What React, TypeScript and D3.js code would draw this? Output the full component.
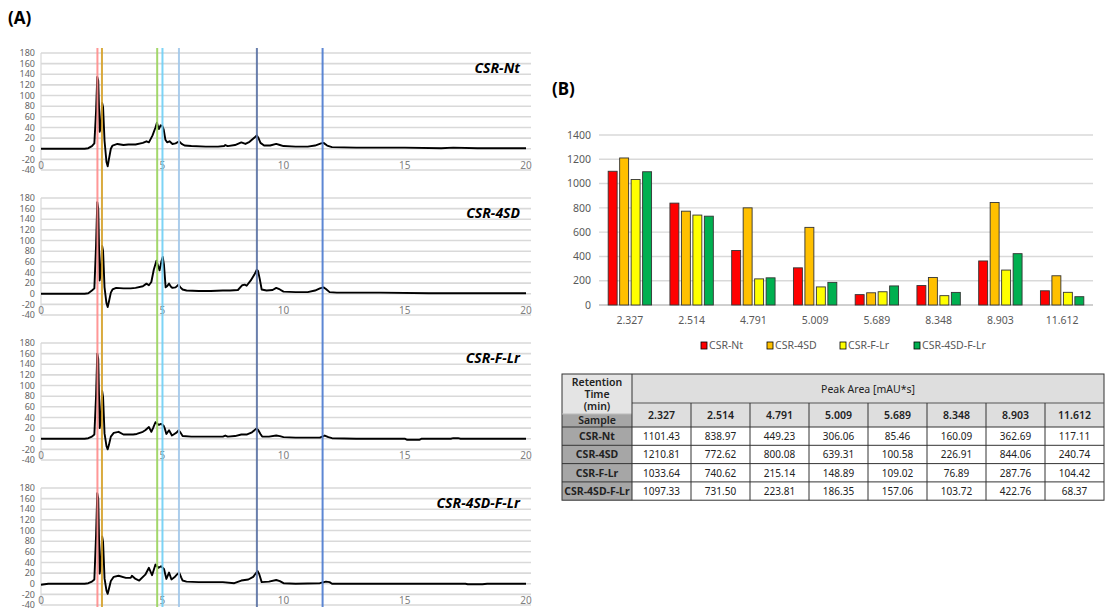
import * as d3 from 'd3'

// sample names, retention times and marker lines
const sampleNames = ['CSR-Nt', 'CSR-4SD', 'CSR-F-Lr', 'CSR-4SD-F-Lr']
const retentionTimes = ['2.327', '2.514', '4.791', '5.009', '5.689', '8.348', '8.903', '11.612']
const markerTimes = [2.327, 2.514, 4.791, 5.009, 5.689, 8.903, 11.612]
const markerColors = ['#ff8c8c', '#d6a22a', '#9ad45c', '#6fd0f6', '#a3c8ea', '#5a72a4', '#4c7bd0']
const barColors = ['#ff0000', '#ffc000', '#ffff00', '#00b050']

// peak areas [mAU*s]
const areaNt = [1101.43, 838.97, 449.23, 306.06, 85.46, 160.09, 362.69, 117.11]
const area4SD = [1210.81, 772.62, 800.08, 639.31, 100.58, 226.91, 844.06, 240.74]
const areaFLr = [1033.64, 740.62, 215.14, 148.89, 109.02, 76.89, 287.76, 104.42]
const area4SDFLr = [1097.33, 731.5, 223.81, 186.35, 157.06, 103.72, 422.76, 68.37]

// chromatograms: [time (min), mAU]
const traceNt = [[0,0],[1.8,0],[1.95,1],[2.1,5],[2.2,10],[2.27,70],[2.32,135],[2.36,128],[2.42,32],[2.47,40],[2.52,86],[2.56,78],[2.62,15],[2.7,-25],[2.75,-33],[2.8,-20],[2.88,0],[2.95,6],[3.15,9],[3.4,7],[3.6,8],[3.9,8],[4.2,11],[4.35,14],[4.45,12],[4.6,25],[4.72,40],[4.78,49],[4.86,37],[4.93,44],[5.0,43],[5.06,36],[5.13,17],[5.2,12],[5.3,14],[5.42,9],[5.55,10],[5.7,14],[5.8,9],[5.92,6],[6.2,5],[6.8,4],[7.3,4],[7.55,5],[7.6,7],[7.7,5],[8.0,7],[8.26,12],[8.43,9],[8.6,13],[8.83,22],[8.9,25],[8.97,20],[9.05,11],[9.2,6],[9.45,6],[9.7,9],[9.85,7],[10.0,5],[10.5,4],[11.0,4],[11.3,6],[11.55,10],[11.65,11],[11.8,6],[12.0,3],[13,2],[14,2],[15,2],[16.5,1],[17,2],[18,1],[19,1],[20,1]]
const trace4SD = [[0,0],[1.8,0],[1.95,1],[2.1,6],[2.2,10],[2.27,90],[2.32,172],[2.36,160],[2.42,25],[2.47,40],[2.52,90],[2.56,80],[2.62,12],[2.7,-18],[2.75,-25],[2.8,-15],[2.88,2],[2.95,8],[3.1,11],[3.4,10],[3.7,10],[3.9,11],[4.2,14],[4.35,19],[4.45,16],[4.55,22],[4.65,45],[4.76,62],[4.83,52],[4.89,44],[4.96,60],[5.02,69],[5.07,55],[5.14,12],[5.2,14],[5.28,19],[5.36,13],[5.42,11],[5.55,12],[5.67,17],[5.75,12],[5.84,8],[6.0,6],[6.5,5],[7.0,5],[7.5,6],[7.8,6],[8.12,7],[8.3,16],[8.4,17],[8.48,15],[8.65,25],[8.8,36],[8.9,45],[8.95,43],[9.02,28],[9.1,8],[9.3,6],[9.55,7],[9.7,11],[9.85,8],[10.0,4],[10.5,3],[11.0,3],[11.3,6],[11.5,10],[11.65,12],[11.75,9],[11.9,3],[12.2,2],[14,2],[16,1],[18,1],[20,1]]
const traceFLr = [[0,0],[1.8,0],[1.95,1],[2.1,4],[2.2,8],[2.27,80],[2.32,160],[2.36,150],[2.42,20],[2.47,35],[2.52,90],[2.56,78],[2.62,10],[2.7,-14],[2.75,-20],[2.8,-12],[2.88,4],[3.0,11],[3.2,13],[3.4,8],[3.8,8],[3.95,9],[4.2,13],[4.3,16],[4.45,22],[4.55,13],[4.62,20],[4.72,31],[4.8,28],[4.86,26],[4.95,28],[5.05,25],[5.1,20],[5.17,9],[5.28,16],[5.4,6],[5.5,9],[5.6,12],[5.68,16],[5.76,11],[5.84,5],[6.2,4],[7.0,4],[7.5,4],[7.6,6],[7.7,4],[8.0,5],[8.26,8],[8.5,8],[8.7,12],[8.88,19],[8.95,17],[9.05,9],[9.12,4],[9.4,4],[9.7,6],[9.85,5],[10.0,3],[10.5,2],[11.5,2],[11.7,6],[11.85,3],[12.0,1],[13,0],[15.0,0],[15.1,-2],[15.6,-2],[15.7,0],[16.9,0],[17.0,1],[17.2,1],[17.3,0],[20,0]]
const trace4SDFLr = [[0,-2],[0.3,0],[1.8,0],[1.95,1],[2.1,4],[2.2,8],[2.27,90],[2.32,170],[2.36,160],[2.42,19],[2.47,35],[2.52,89],[2.56,78],[2.62,10],[2.7,-13],[2.75,-19],[2.8,-10],[2.88,5],[3.0,13],[3.2,15],[3.5,11],[3.7,11],[3.75,15],[3.9,9],[4.05,6],[4.3,17],[4.45,30],[4.58,16],[4.72,36],[4.85,30],[4.95,33],[5.07,28],[5.17,9],[5.28,21],[5.38,8],[5.5,12],[5.62,18],[5.7,21],[5.78,12],[5.84,6],[6.0,4],[6.5,3],[7.5,3],[7.97,1],[8.26,6],[8.55,8],[8.75,13],[8.93,24],[9.0,18],[9.1,3],[9.4,4],[9.7,7],[9.85,5],[10.0,1],[10.5,0],[11.5,1],[11.75,4],[11.9,3],[12.0,0],[14,0],[17.5,0],[17.6,-1],[18.2,-1],[18.4,0],[20,0]]

const traces = [traceNt, trace4SD, traceFLr, trace4SDFLr]
const areas = [areaNt, area4SD, areaFLr, area4SDFLr]

const yTicksA = d3.range(-40, 181, 20)
const xTicksA = [0, 5, 10, 15, 20]
const yTicksB = d3.range(0, 1401, 200)

const font = "'Noto Sans', 'Open Sans', sans-serif"

const App = () => {
  // panel A
  const xA = d3.scaleLinear().domain([0, 20]).range([41, 526])
  const plotRight = 531

  // panel B
  const xB = d3.scaleBand().domain(retentionTimes).range([599, 1093])
  const xInner = d3.scaleBand().domain(sampleNames).range([0, xB.bandwidth()]).paddingInner(0.22).paddingOuter(0.8)
  const yB = d3.scaleLinear().domain([0, 1400]).range([305, 135])

  // table
  const colEdges = [562, 632].concat(d3.range(1, 9).map((i) => 632 + i * 59))
  const rowEdges = [427, 445.3, 463.6, 481.9, 500.2]

  const legendX = [701, 767, 840, 914]

  return (
    <svg width={1107} height={611} style={{ position: 'absolute', left: 0, top: 0, background: '#fff' }} fontFamily={font}>
      <text x={8} y={24} fontSize={17} fontWeight={700}>(A)</text>

      {traces.map((trace, i) => {
        const top = 53 + 145 * i
        const yA = d3.scaleLinear().domain([-40, 180]).range([top + 117, top])
        const line = d3.line<number[]>().x((d) => xA(d[0])).y((d) => yA(d[1]))
        return (
          <g key={sampleNames[i]}>
            {yTicksA.map((t) => (
              <g key={t}>
                <line x1={41} x2={plotRight} y1={yA(t)} y2={yA(t)} stroke='#d9d9d9' strokeWidth={1.6} />
                <text x={35} y={yA(t)} dy='0.35em' textAnchor='end' fontSize={9} fill='#666'>{t}</text>
              </g>
            ))}
            <line x1={41} x2={41} y1={top} y2={top + 117} stroke='#d9d9d9' strokeWidth={1.2} />
            {xTicksA.map((t) => (
              <text key={t} x={xA(t)} y={yA(-30) + 4} textAnchor='middle' fontSize={10} fill='#808080'>{t}</text>
            ))}
            <path d={line(trace) || ''} fill='none' stroke='#000' strokeWidth={1.9} strokeLinejoin='round' />
            <text x={520} y={top + 20} textAnchor='end' fontSize={14} fontWeight={700} fontStyle='italic'>{sampleNames[i]}</text>
          </g>
        )
      })}

      {markerTimes.map((t, i) => (
        <line key={t} x1={xA(t)} x2={xA(t)} y1={48} y2={607} stroke={markerColors[i]} strokeWidth={2} opacity={0.9} />
      ))}

      <text x={552} y={95} fontSize={17} fontWeight={700}>(B)</text>

      {yTicksB.map((t) => (
        <g key={t}>
          <line x1={599} x2={1093} y1={yB(t)} y2={yB(t)} stroke={t === 0 ? '#bfbfbf' : '#d9d9d9'} strokeWidth={1.4} />
          <text x={591} y={yB(t)} dy='0.35em' textAnchor='end' fontSize={10.5} fill='#595959'>{t}</text>
        </g>
      ))}
      {retentionTimes.map((rt, c) => (
        <g key={rt}>
          {areas.map((vals, s) => (
            <rect
              key={s}
              x={(xB(rt) || 0) + (xInner(sampleNames[s]) || 0)}
              y={yB(vals[c])}
              width={xInner.bandwidth()}
              height={yB(0) - yB(vals[c])}
              fill={barColors[s]}
              stroke='#333'
              strokeWidth={0.9}
            />
          ))}
          <text x={(xB(rt) || 0) + xB.bandwidth() / 2} y={324} textAnchor='middle' fontSize={10.5} fill='#595959'>{rt}</text>
        </g>
      ))}
      {sampleNames.map((n, s) => (
        <g key={n}>
          <rect x={legendX[s]} y={342} width={6} height={7} fill={barColors[s]} stroke='#000' strokeWidth={0.8} />
          <text x={legendX[s] + 8} y={349} fontSize={10.5} fill='#595959'>{n}</text>
        </g>
      ))}

      {/* table */}
      <g fontSize={10.5} fill='#222'>
        <rect x={562} y={374} width={70} height={40} fill='#e4e4e4' />
        <rect x={562} y={414} width={70} height={13} fill='#a6a6a6' />
        <rect x={632} y={374} width={472} height={53} fill='#dedede' />
        {rowEdges.slice(0, 4).map((y) => (
          <rect key={y} x={562} y={y} width={70} height={18.3} fill='#a6a6a6' />
        ))}
        <text x={597} y={386} textAnchor='middle' fontWeight={600}>Retention</text>
        <text x={597} y={398} textAnchor='middle' fontWeight={600}>Time</text>
        <text x={597} y={410} textAnchor='middle' fontWeight={600}>(min)</text>
        <text x={597} y={424} textAnchor='middle' fontWeight={600}>Sample</text>
        <text x={868} y={393} textAnchor='middle'>Peak Area  [mAU*s]</text>
        {retentionTimes.map((rt, c) => (
          <text key={rt} x={(colEdges[c + 1] + colEdges[c + 2]) / 2} y={419} textAnchor='middle' fontWeight={600}>{rt}</text>
        ))}
        {sampleNames.map((n, s) => (
          <g key={n}>
            <text x={597} y={rowEdges[s] + 13} textAnchor='middle' fontWeight={700}>{n}</text>
            {areas[s].map((v, c) => (
              <text key={c} x={(colEdges[c + 1] + colEdges[c + 2]) / 2} y={rowEdges[s] + 13} textAnchor='middle' fontSize={10}>{v.toFixed(2)}</text>
            ))}
          </g>
        ))}
        {/* grid lines */}
        <rect x={562} y={374} width={542} height={126.2} fill='none' stroke='#333' strokeWidth={1} />
        <line x1={632} x2={1104} y1={403} y2={403} stroke='#555' strokeWidth={1} />
        <line x1={562} x2={632} y1={414} y2={414} stroke='#bbb' strokeWidth={1} />
        {rowEdges.slice(0, 4).map((y) => (
          <line key={y} x1={562} x2={1104} y1={y} y2={y} stroke='#333' strokeWidth={1} />
        ))}
        {colEdges.slice(1, 9).map((x, i) => (
          <line key={x} x1={x} x2={x} y1={i === 0 ? 374 : 403} y2={500.2} stroke='#333' strokeWidth={1} />
        ))}
      </g>
    </svg>
  )
}

export default App
